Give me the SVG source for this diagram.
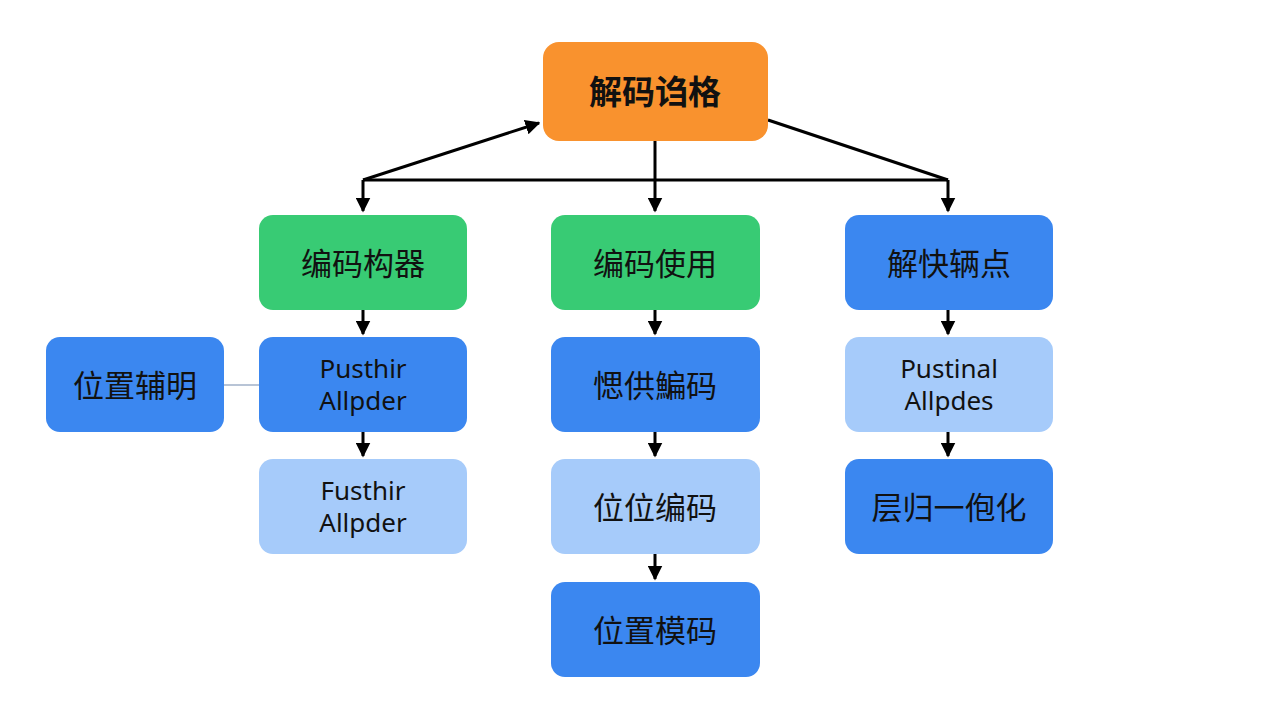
<svg xmlns="http://www.w3.org/2000/svg" width="1280" height="720" viewBox="0 0 1280 720">
<style>
text{font-family:"Noto Sans CJK SC","Noto Sans",sans-serif;font-size:31px;fill:#111;text-anchor:middle;dominant-baseline:central}
.en{font-family:"Noto Sans","Open Sans",sans-serif;font-size:26px}
.g{fill:#38CB74}.b{fill:#3B87F0}.l{fill:#A6CBFA}.o{fill:#F9922E}
.c{stroke:#000;stroke-width:3;fill:none}
</style>
<defs><marker id="a" viewBox="0 0 10 10" refX="9" refY="5" markerWidth="5" markerHeight="5" orient="auto"><path d="M0,0L10,5L0,10z" fill="#000"/></marker></defs>
<rect width="1280" height="720" fill="#fff"/>
<g id="connectors">
<path class="c" d="M655,141V211" marker-end="url(#a)"/>
<path class="c" d="M363,180H948"/>
<path class="c" d="M363,180V211" marker-end="url(#a)"/>
<path class="c" d="M948,180V211" marker-end="url(#a)"/>
<path class="c" d="M363,180L539,123" marker-end="url(#a)"/>
<path class="c" d="M768,120L948,180"/>
<path class="c" d="M363,310V334" marker-end="url(#a)"/>
<path class="c" d="M363,432V456" marker-end="url(#a)"/>
<path class="c" d="M655,310V334" marker-end="url(#a)"/>
<path class="c" d="M655,432V456" marker-end="url(#a)"/>
<path class="c" d="M655,554V579" marker-end="url(#a)"/>
<path class="c" d="M948,310V334" marker-end="url(#a)"/>
<path class="c" d="M948,432V456" marker-end="url(#a)"/>
<path d="M224,385H259" stroke="#B8C4D6" stroke-width="2"/>
</g>
<g id="top"><rect class="o" x="543" y="42" width="225" height="99" rx="16"/><text x="655" y="90" style="font-weight:bold;font-size:33px">解码诌格</text></g>
<g id="n1"><rect class="g" x="259" y="215" width="208" height="95" rx="14"/><text x="363" y="261">编码构器</text></g>
<g id="n2"><rect class="g" x="551" y="215" width="209" height="95" rx="14"/><text x="655" y="261">编码使用</text></g>
<g id="n3"><rect class="b" x="845" y="215" width="208" height="95" rx="14"/><text x="949" y="261">解快辆点</text></g>
<g id="n4"><rect class="b" x="46" y="337" width="178" height="95" rx="14"/><text x="135" y="383">位置辅明</text></g>
<g id="n5"><rect class="b" x="259" y="337" width="208" height="95" rx="14"/><text class="en" x="363" y="368">Pusthir</text><text class="en" x="363" y="400">Allpder</text></g>
<g id="n6"><rect class="b" x="551" y="337" width="209" height="95" rx="14"/><text x="655" y="383">愢供鯿码</text></g>
<g id="n7"><rect class="l" x="845" y="337" width="208" height="95" rx="14"/><text class="en" x="949" y="368">Pustinal</text><text class="en" x="949" y="400">Allpdes</text></g>
<g id="n8"><rect class="l" x="259" y="459" width="208" height="95" rx="14"/><text class="en" x="363" y="490">Fusthir</text><text class="en" x="363" y="522">Allpder</text></g>
<g id="n9"><rect class="l" x="551" y="459" width="209" height="95" rx="14"/><text x="655" y="505">位位编码</text></g>
<g id="n10"><rect class="b" x="845" y="459" width="208" height="95" rx="14"/><text x="949" y="505">层归一佨化</text></g>
<g id="n11"><rect class="b" x="551" y="582" width="209" height="95" rx="14"/><text x="655" y="628">位置模码</text></g>
</svg>
